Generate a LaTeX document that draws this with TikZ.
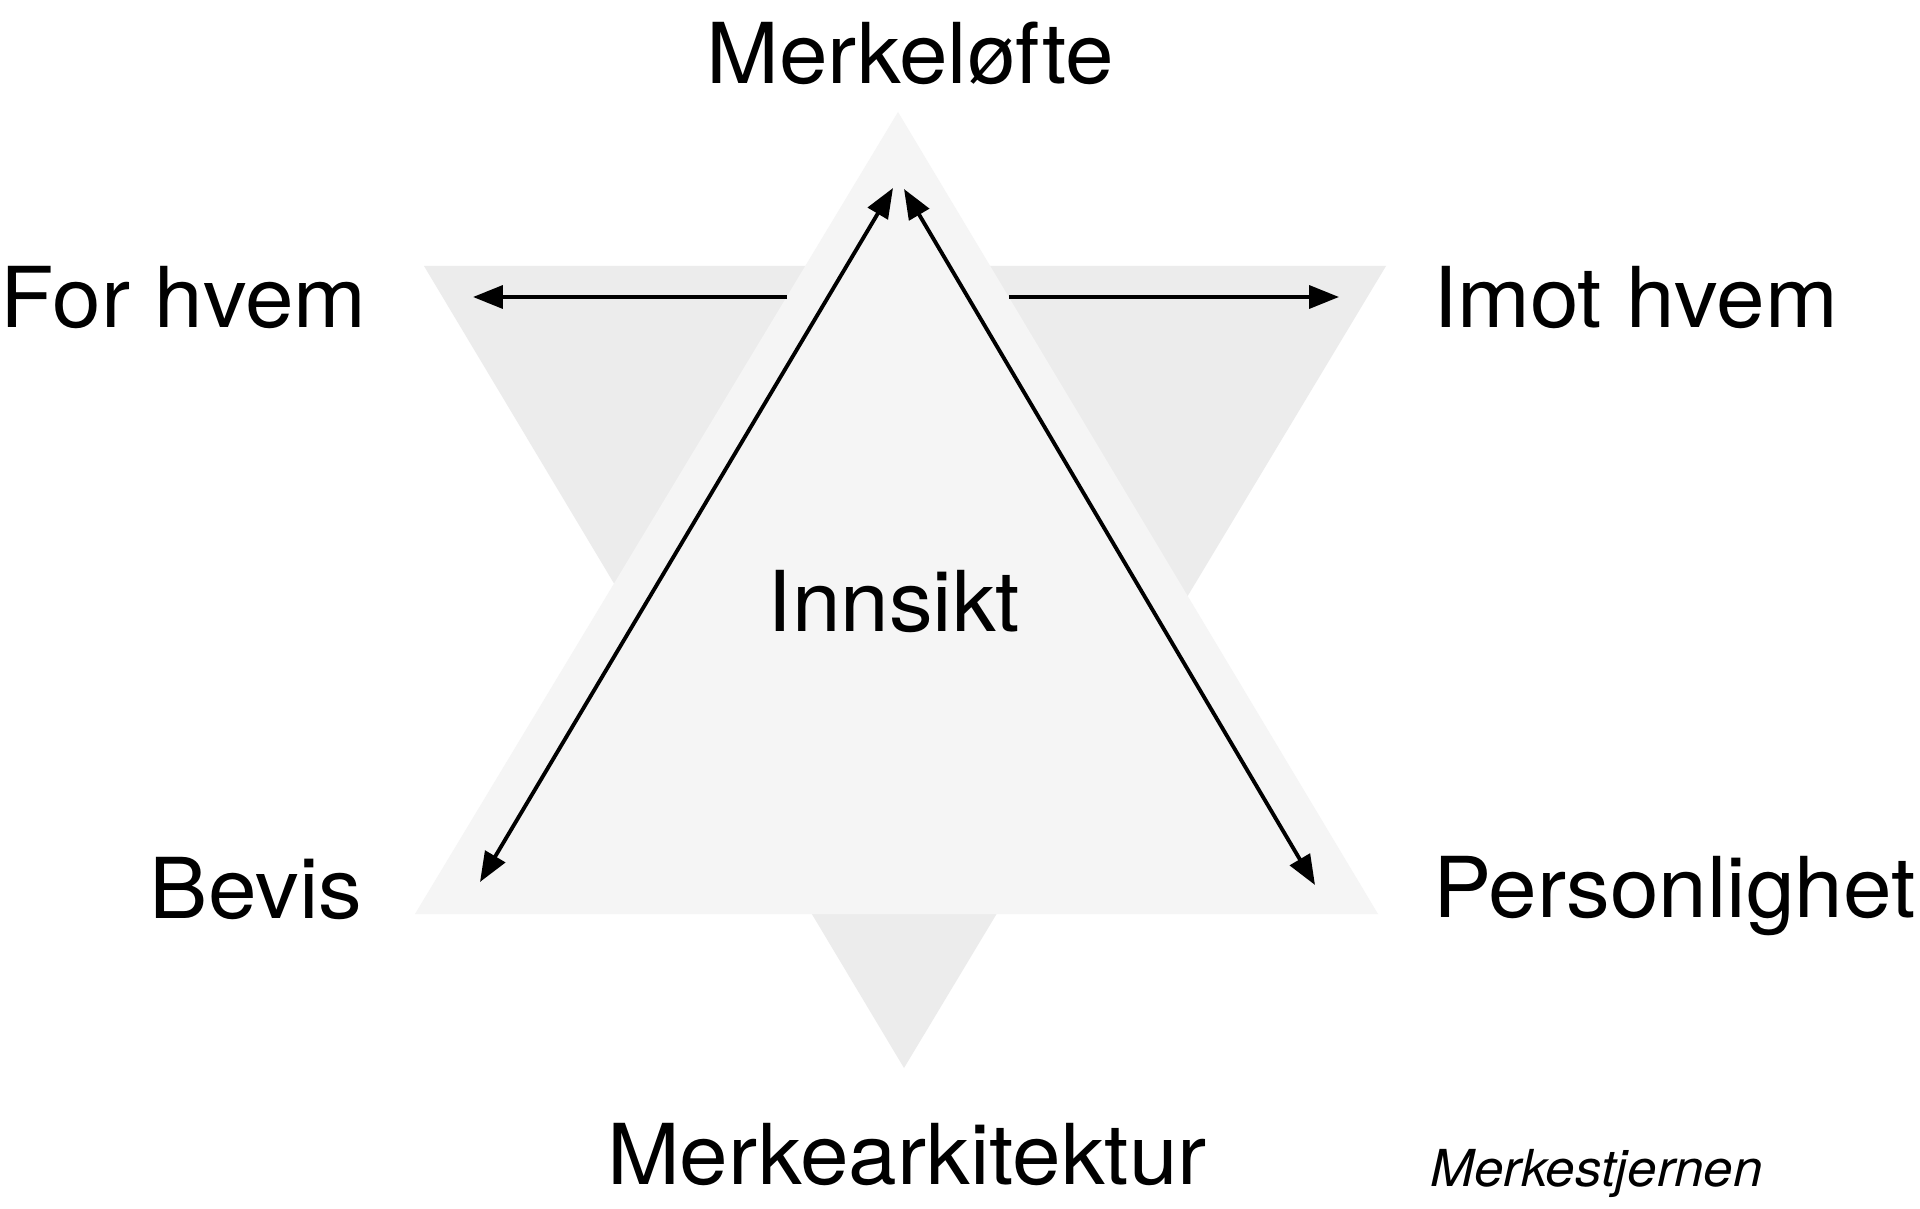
\documentclass[tikz,border=0pt]{standalone}
\usepackage{fontspec}
\setmainfont{TeX Gyre Heros}[FakeStretch=1.04]
\usetikzlibrary{arrows.meta}
\definecolor{uptri}{HTML}{F5F5F5}
\definecolor{downtri}{HTML}{ECECEC}
\tikzset{
  biglabel/.style={font=\fontsize{47.8}{57}\selectfont, inner sep=0pt, outer sep=0pt},
  smalllabel/.style={font=\fontsize{29}{35}\selectfont\itshape, inner sep=0pt, outer sep=0pt},
  conn/.style={line width=2.2pt, black, -{Triangle[length=17pt,width=13pt]}},
  dconn/.style={line width=2.2pt, black, {Triangle[length=17pt,width=13pt]}-{Triangle[length=17pt,width=13pt]}}
}
\begin{document}
\begin{tikzpicture}[x=0.02cm, y=-0.02cm]
\path[use as bounding box, fill=white] (0,0) rectangle (1920,1209);
% downward triangle
\fill[downtri] (424,266) -- (1386,266) -- (904,1068) -- cycle;
% upward triangle
\fill[uptri] (898,112) -- (1378,914) -- (415,914) -- cycle;

% labels
\node[biglabel, anchor=base] (top) at (910,84) {Merkeløfte};
\node[biglabel, anchor=base west] (forhvem) at (1,328) {For hvem};
\node[biglabel, anchor=base west] (imothvem) at (1433,328) {Imot hvem};
\node[biglabel, anchor=base east] (bevis) at (362,918) {Bevis};
\node[biglabel, anchor=base west] (person) at (1433,917) {Personlighet};
\node[biglabel, anchor=base] (arkitektur) at (907,1184) {Merkearkitektur};
\node[biglabel, anchor=base] (innsikt) at (894,631) {Innsikt};
\node[smalllabel, anchor=base west] (stjernen) at (1430,1186) {Merkestjernen};

% connector end points
\coordinate (hlstart) at (787,297);
\coordinate (hlend) at (473,297);
\coordinate (hrstart) at (1009,297);
\coordinate (hrend) at (1339,297);
\coordinate (dltop) at (893,188);
\coordinate (dlbot) at (480,882);
\coordinate (drtop) at (904,189);
\coordinate (drbot) at (1315,885);

\draw[conn] (hlstart) -- (hlend);
\draw[conn] (hrstart) -- (hrend);
\draw[dconn] (dlbot) -- (dltop);
\draw[dconn] (drbot) -- (drtop);
\end{tikzpicture}
\end{document}
